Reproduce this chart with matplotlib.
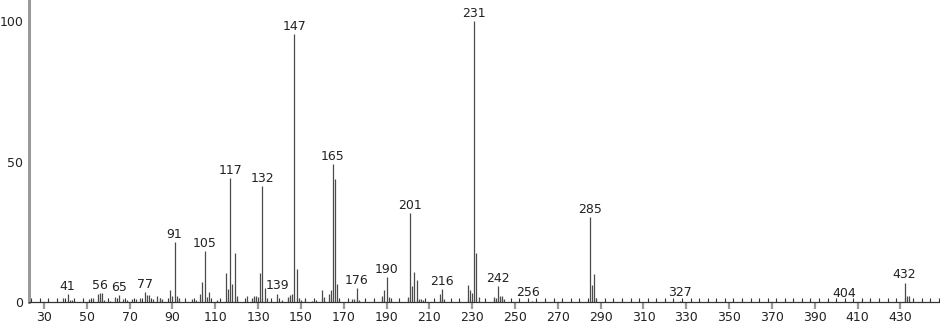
import matplotlib
matplotlib.use("Agg")
import matplotlib.pyplot as plt
from matplotlib.ticker import MultipleLocator, FixedLocator

# m/z values and relative intensities
mz = [39, 41, 42, 43, 44, 51, 53, 55, 56, 57, 58, 61, 63, 65, 67, 69, 71, 73, 75,
      77, 78, 79, 81, 83, 84, 85, 89, 90, 91, 92, 93, 99, 101, 103, 104, 105, 106,
      107, 111, 115, 116, 117, 118, 119, 120, 125, 127, 128, 129, 130, 131, 132,
      133, 134, 139, 141, 144, 145, 146, 147, 148, 149, 150, 152, 155, 157, 160,
      161, 163, 164, 165, 166, 167, 168, 174, 175, 176, 177, 188, 189, 190, 191,
      192, 200, 201, 202, 203, 204, 205, 206, 207, 215, 216, 217, 228, 229, 230,
      231, 232, 233, 240, 241, 242, 243, 244, 245, 256, 258, 285, 286, 287, 288,
      327, 404, 432, 433, 434]
intensity = [1.2, 2.8, 0.6, 0.5, 0.3, 1.0, 1.2, 2.6, 3.2, 3.0, 0.6, 0.4, 1.5, 2.4,
             0.8, 0.6, 0.8, 1.0, 1.2, 3.4, 2.5, 2.3, 0.8, 2.0, 1.2, 1.0, 4.2, 2.0,
             21.4, 2.2, 1.2, 0.8, 0.6, 2.8, 7.1, 18.2, 1.5, 3.5, 0.6, 10.3, 4.6,
             44.1, 6.2, 17.3, 2.0, 2.0, 1.2, 2.0, 2.0, 1.5, 10.4, 41.2, 5.0, 1.2,
             2.9, 0.6, 1.5, 2.5, 2.8, 95.3, 11.5, 1.2, 0.5, 0.8, 0.4, 0.5, 4.2,
             1.8, 2.8, 4.2, 49.0, 43.9, 6.2, 0.6, 1.0, 1.0, 5.0, 0.5, 2.0, 4.2,
             8.7, 1.5, 0.6, 1.5, 31.7, 5.6, 10.6, 7.6, 1.0, 0.8, 0.5, 2.8, 4.6,
             0.8, 6.0, 4.2, 3.0, 100.0, 17.3, 1.5, 1.5, 1.2, 5.6, 2.0, 2.0, 1.0,
             0.4, 0.3, 30.1, 6.0, 9.8, 1.2, 0.4, 0.3, 6.8, 2.2, 2.2]
labeled = [41, 56, 65, 77, 91, 105, 117, 132, 139, 147, 165, 176, 190, 201, 216,
           231, 242, 256, 285, 327, 404, 432]
x_ticks = list(range(30, 431, 20))
y_ticks = [0, 50, 100]

plt.rcParams['font.family'] = ['DejaVu Sans']

fig = plt.figure(figsize=(9.4, 3.23), dpi=100)
ax = fig.add_axes([29 / 940, 21.3 / 323, 911 / 940, 301.7 / 323])

ax.vlines(mz, 0, intensity, colors='#4a4a4a', linewidth=0.9)

lookup = dict(zip(mz, intensity))
for m in labeled:
    h = lookup.get(m, 0)
    ax.annotate(str(m), (m, h), xytext=(0, 3), textcoords='offset points',
                ha='center', va='baseline', fontsize=9, color='#222222')

ax.set_xlim(23, 448.5)
ax.set_ylim(0, 107.6)

for s in ['top', 'right']:
    ax.spines[s].set_visible(False)
ax.spines['left'].set_color('#9a9a9a')
ax.spines['left'].set_linewidth(2.2)
ax.spines['bottom'].set_color('#333333')
ax.spines['bottom'].set_linewidth(0.9)

ax.xaxis.set_major_locator(FixedLocator(x_ticks))
ax.xaxis.set_minor_locator(MultipleLocator(4))
ax.tick_params(axis='x', which='major', direction='out', length=5, width=1.6,
               color='#9a9a9a', labelsize=9, labelcolor='#222222', pad=2)
ax.tick_params(axis='x', which='minor', direction='in', length=3, width=0.8,
               color='#333333')
ax.yaxis.set_major_locator(FixedLocator(y_ticks))
ax.yaxis.set_minor_locator(FixedLocator([25, 75]))
ax.tick_params(axis='y', which='both', direction='out', length=0, pad=4,
               labelsize=9, labelcolor='#222222')

fig.savefig('out.png', dpi=100)
